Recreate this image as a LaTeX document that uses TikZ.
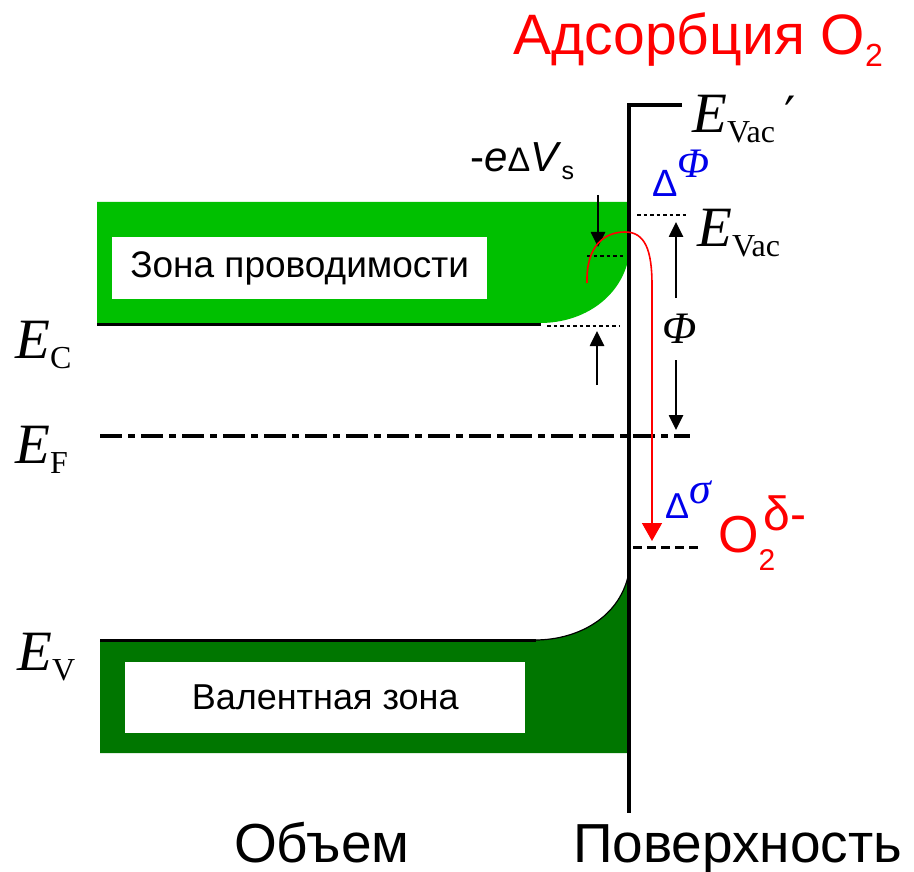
\documentclass[tikz,border=0pt]{standalone}
\usepackage{fontspec}
\setmainfont{Liberation Sans}
\newfontfamily\serifE{Liberation Serif}
\newfontfamily\djv{DejaVu Sans}
\usetikzlibrary{arrows.meta}
\definecolor{cband}{RGB}{0,192,0}
\definecolor{vband}{RGB}{0,118,0}
\definecolor{lblue}{RGB}{0,0,235}
\definecolor{lred}{RGB}{255,0,0}
\newcommand{\myfs}[1]{\fontsize{#1}{#1}\selectfont}
\newcommand{\Elbl}[1]{{\serifE\myfs{57}\itshape E}\raisebox{-10pt}{\serifE\myfs{32}#1}}
\begin{document}
\begin{tikzpicture}[x=1pt,y=-1pt,
  lbl/.style={inner sep=0pt, anchor=base west},
  blk/.style={line width=2.6pt, -{Triangle[length=15pt,width=14pt]}},
  dotl/.style={line width=2.5pt, dash pattern=on 3.5pt off 3pt},
  boxw/.style={fill=white, inner sep=0pt, anchor=north west}]
\useasboundingbox (0,0) rectangle (914,872);
% conduction band
\fill[cband] (97,202) -- (629,202) -- (629,256) .. controls (622,296) and (585,323) .. (540,323) -- (97,323) -- cycle;
\draw[line width=3pt] (97,324) -- (541,324);
\node[boxw, minimum width=375pt, minimum height=62pt, font=\myfs{37}] (cb) at (112,237) {Зона проводимости};
% valence band
\fill[vband] (100,640) -- (535,640) .. controls (580,640) and (625,615) .. (630,565) -- (630,753) -- (100,753) -- cycle;
\draw[line width=3pt] (100,640) -- (536,640);
\draw[line width=1.2pt] (535,640) .. controls (580,640) and (625,615) .. (630,565);
\node[boxw, minimum width=400pt, minimum height=71pt, font=\myfs{36}] (vb) at (125,662) {Валентная зона};
% Fermi level
\coordinate (fl) at (100,436);
\coordinate (fr) at (690,436);
\draw[line width=4pt, dash pattern=on 22pt off 6pt on 7pt off 6pt] (fl) -- (fr);
% surface
\coordinate (st) at (682,105);
\coordinate (sc) at (629,105);
\coordinate (sb) at (629,813);
\draw[line width=4.5pt] (st) -- (sc) -- (sb);
% dotted levels
\coordinate (d1a) at (547,326); \coordinate (d1b) at (620,326);
\coordinate (d2a) at (587,256); \coordinate (d2b) at (625,256);
\coordinate (d3a) at (637,215); \coordinate (d3b) at (687,215);
\draw[dotl] (d1a) -- (d1b);
\draw[dotl] (d2a) -- (d2b);
\draw[dotl] (d3a) -- (d3b);
% O2 level
\coordinate (o2a) at (633,547); \coordinate (o2b) at (700,547);
\draw[line width=3pt, dash pattern=on 9pt off 5pt] (o2a) -- (o2b);
% arrows
\coordinate (a1s) at (598,195); \coordinate (a1e) at (598,247);
\coordinate (a2s) at (597,385); \coordinate (a2e) at (597,331);
\coordinate (a3s) at (676,298); \coordinate (a3e) at (676,222);
\coordinate (a4s) at (676,360); \coordinate (a4e) at (676,430);
\draw[blk] (a1s) -- (a1e);
\draw[blk] (a2s) -- (a2e);
\draw[blk] (a3s) -- (a3e);
\draw[blk] (a4s) -- (a4e);
% red electron path
\coordinate (rs) at (587,283);
\coordinate (re) at (652,541);
\draw[lred, line width=1.6pt, -{Triangle[length=18pt,width=20pt]}] (rs) .. controls (586,245) and (605,232) .. (625,232) .. controls (645,232) and (652,250) .. (652,285) -- (re);
% labels
\node[lbl, text=lred, font=\myfs{57}] (ads) at (513,55) {Адсорбция O\raisebox{-12pt}{\myfs{32}2}};
\node[lbl, font=\myfs{55}] (bulk) at (234,862) {Объем};
\node[lbl, font=\myfs{55}] (surf) at (573,862) {Поверхность};
\node[lbl] (ec) at (15,358) {\Elbl{C}};
\node[lbl] (ef) at (15,463) {\Elbl{F}};
\node[lbl] (ev) at (17,670) {\Elbl{V}};
\node[lbl] (evac1) at (692,133) {\Elbl{Vac}};
\node[lbl, font=\djv\myfs{50}] (prime) at (784,133) {′};
\node[lbl] (evac) at (697,247) {\Elbl{Vac}};
\node[lbl, font=\myfs{42}] (dvs) at (470,172) {-\textit{e}{\myfs{34}Δ}\textit{V}\raisebox{-8pt}{\myfs{25}s}};
\node[lbl, text=lblue, font=\myfs{38}] (dphi) at (652,197) {Δ\raisebox{20pt}{\serifE\itshape\myfs{42}Φ}};
\node[lbl, font=\serifE\itshape\myfs{45}] (phi) at (662,343) {Φ};
\node[lbl, text=lblue, font=\myfs{36}] (dsig) at (665,518) {Δ\raisebox{15pt}{\serifE\itshape\myfs{44}σ}};
\node[lbl, text=lred, font=\myfs{52}] (o2) at (718,552) {O\rlap{\raisebox{-18pt}{\myfs{30}2}}\hspace{5pt}\raisebox{22pt}{\myfs{48}δ-}};
\end{tikzpicture}
\end{document}
